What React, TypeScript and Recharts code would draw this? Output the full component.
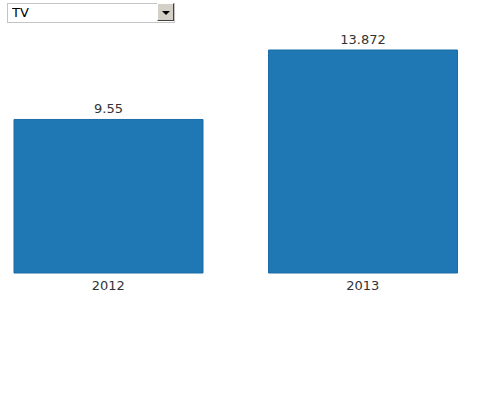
import React from 'react';
import { BarChart, Bar, XAxis, YAxis, LabelList } from 'recharts';

const years = ['2012', '2013'];
const tvValues = [9.55, 13.872];

const data = years.map((y, i) => ({ year: y, value: tvValues[i] }));

const font = '"DejaVu Sans", sans-serif';

export default function App() {
  return (
    <div
      style={{
        position: 'absolute',
        left: 0,
        top: 0,
        width: 490,
        height: 400,
        background: '#fff',
        fontFamily: font,
      }}
    >
      {/* old-style dropdown */}
      <div style={{ position: 'absolute', left: 7, top: 2, width: 168, height: 20, zIndex: 1 }}>
        <select
          defaultValue="TV"
          style={{
            appearance: 'none',
            WebkitAppearance: 'none',
            boxSizing: 'border-box',
            width: 168,
            height: 20,
            margin: 0,
            padding: '0 0 0 4px',
            fontSize: 13,
            fontFamily: font,
            color: '#000',
            border: '1px solid #c4c4c4',
            borderRadius: 0,
            background: '#fff',
          }}
        >
          <option value="TV">TV</option>
        </select>
        <div
          style={{
            position: 'absolute',
            right: 1,
            top: 1,
            width: 17,
            height: 18,
            boxSizing: 'border-box',
            background: '#d4d0c8',
            borderTop: '1px solid #fff',
            borderLeft: '1px solid #fff',
            borderRight: '1px solid #404040',
            borderBottom: '1px solid #404040',
            pointerEvents: 'none',
          }}
        >
          <div
            style={{
              position: 'absolute',
              left: 4,
              top: 7,
              width: 0,
              height: 0,
              borderLeft: '4px solid transparent',
              borderRight: '4px solid transparent',
              borderTop: '4px solid #000',
            }}
          />
        </div>
      </div>
      <BarChart
        width={490}
        height={400}
        data={data}
        margin={{ top: 50, right: 0, bottom: 97, left: -19 }}
        barCategoryGap={33}
      >
        <XAxis
          dataKey="year"
          axisLine={false}
          tickLine={false}
          height={30}
          tick={{ fill: '#333', fontSize: 13, fontFamily: font }}
        />
        <YAxis hide domain={[0, 'dataMax']} />
        <Bar dataKey="value" fill="#1f77b4" stroke="#1b6ca6" isAnimationActive={false}>
          <LabelList dataKey="value" position="top" offset={6} fill="#333" fontSize={13} fontFamily={font} />
        </Bar>
      </BarChart>
    </div>
  );
}
